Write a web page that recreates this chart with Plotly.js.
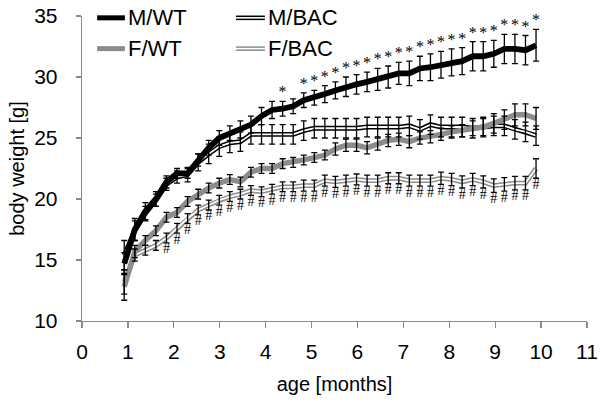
<!DOCTYPE html>
<html><head><meta charset="utf-8">
<script src="https://cdn.plot.ly/plotly-3.0.1.min.js"></script>
<style>html,body{margin:0;padding:0;background:#fff}</style>
</head><body><div id="chart" style="width:602px;height:404px"></div>
<script>
// age in months (weekly measurements, weeks 4..43)
const ageMonths = [0.92,1.15,1.38,1.61,1.84,2.07,2.30,2.53,2.76,2.99,3.22,3.45,3.68,3.91,4.14,4.37,4.60,4.83,5.06,5.29,5.52,5.75,5.98,6.21,6.44,6.67,6.90,7.13,7.36,7.59,7.82,8.05,8.28,8.51,8.74,8.97,9.20,9.43,9.66,9.89];

const mWT    = [14.7,17.5,19.0,20.0,21.4,22.1,22.1,23.2,24.2,25.0,25.4,25.7,26.1,26.8,27.3,27.4,27.6,28.1,28.3,28.6,28.9,29.2,29.4,29.6,29.8,30.0,30.3,30.3,30.7,30.8,31.0,31.2,31.3,31.7,31.7,31.9,32.3,32.3,32.2,32.6];
const mWTerr = [0.9,0.9,0.7,0.6,0.5,0.4,0.4,0.5,0.6,0.6,0.6,0.7,0.7,0.7,0.7,0.6,0.6,0.6,0.6,0.7,0.7,0.8,0.8,0.8,0.9,0.9,0.9,1.0,1.0,1.1,1.1,1.1,1.1,1.2,1.2,1.1,1.2,1.2,1.2,1.3];

const mBAC    = [15.4,17.4,18.8,19.9,21.2,21.8,22.0,23.0,23.7,24.3,24.6,24.7,25.3,25.3,25.3,25.3,25.3,25.6,25.8,25.8,25.8,25.8,25.8,25.9,25.9,25.9,25.9,26.0,25.7,26.1,25.9,25.9,25.9,25.8,25.9,26.0,26.0,25.7,25.5,25.2];
const mBACerr = [1.2,0.8,0.6,0.5,0.5,0.5,0.6,0.7,0.8,0.8,0.8,0.8,0.8,0.8,0.8,0.8,0.8,0.8,0.8,0.8,0.8,0.8,0.8,0.8,0.8,0.8,0.8,0.8,0.8,0.8,0.8,0.8,0.8,0.8,0.8,0.8,0.8,0.8,0.8,0.8];

const fWT    = [12.8,15.7,16.6,17.4,18.5,18.9,19.8,20.4,20.9,21.3,21.6,21.4,22.2,22.5,22.5,22.9,23.0,23.2,23.4,23.6,24.1,24.4,24.4,24.2,24.5,24.8,24.9,24.7,25.0,25.1,25.3,25.5,25.6,25.8,25.9,26.2,26.5,26.9,26.9,26.6];
const fWTerr = [1.1,0.5,0.4,0.4,0.4,0.4,0.4,0.4,0.4,0.4,0.4,0.4,0.4,0.4,0.4,0.4,0.4,0.4,0.4,0.4,0.5,0.5,0.5,0.5,0.5,0.5,0.5,0.5,0.5,0.5,0.5,0.5,0.5,0.6,0.7,0.8,0.8,0.9,0.9,0.9];

const fBAC    = [13.2,15.4,15.8,16.2,16.8,17.6,18.4,19.1,19.5,19.9,20.2,20.4,20.7,20.6,20.8,21.0,21.0,21.1,21.1,21.5,21.4,21.5,21.6,21.5,21.5,21.7,21.7,21.5,21.5,21.5,21.7,21.6,21.4,21.6,21.4,21.1,21.2,21.3,21.3,22.5];
const fBACerr = [1.0,0.5,0.4,0.4,0.4,0.4,0.4,0.4,0.4,0.4,0.4,0.4,0.4,0.4,0.4,0.4,0.4,0.45,0.45,0.45,0.45,0.45,0.45,0.45,0.45,0.45,0.45,0.45,0.45,0.45,0.5,0.5,0.5,0.5,0.5,0.55,0.55,0.55,0.55,0.8];

// significance markers: * males WT vs BAC, # females WT vs BAC
const starFlag = [0,0,0,0,0,0,0,0,0,0,0,0,0,0,0,1,0,1,1,1,1,1,1,1,1,1,1,1,1,1,1,1,1,1,1,1,1,1,1,1];
const hashFlag = [0,0,0,0,1,1,1,1,1,1,1,1,1,1,1,1,1,1,1,1,1,1,1,1,1,1,1,1,1,1,1,1,1,1,1,1,1,1,1,1];

const legendNames = ['M/WT','M/BAC','F/WT','F/BAC'];
const xTicks = [0,1,2,3,4,5,6,7,8,9,10,11];
const yTicks = [10,15,20,25,30,35];

const GRAY = '#8c8c8c';
const AX = '#8a8a8a';

function line(y, color, width) {
  return {x: ageMonths, y: y, mode: 'lines', line: {color: color, width: width}, hoverinfo: 'skip', showlegend: false};
}
function errs(y, e) {
  return {x: ageMonths, y: y, mode: 'markers', marker: {size: 1, color: 'rgba(0,0,0,0)'},
    error_y: {type: 'data', array: e, visible: true, color: '#000', thickness: 1.3, width: 3},
    hoverinfo: 'skip', showlegend: false};
}
function marks(flag, y, e, sign, txt, pos, size) {
  const xs = [], ys = [];
  flag.forEach((f, i) => { if (f) { xs.push(ageMonths[i]); ys.push(y[i] + sign * e[i]); } });
  return {x: xs, y: ys, mode: 'text', text: xs.map(() => txt), textposition: pos,
    textfont: {family: 'Liberation Serif', size: size, color: '#000'}, cliponaxis: false,
    hoverinfo: 'skip', showlegend: false};
}

const traces = [
  line(mBAC, '#000', 4.8), line(mBAC, '#fff', 1.8),
  line(fBAC, GRAY, 4.8), line(fBAC, '#fff', 1.8),
  line(fWT, GRAY, 5.4),
  line(mWT, '#000', 5.8),
  errs(mBAC, mBACerr), errs(fBAC, fBACerr), errs(fWT, fWTerr), errs(mWT, mWTerr),
  marks(starFlag, mWT, mWTerr, 1, '*', 'top center', 16),
  marks(hashFlag, fBAC, fBACerr, -1, '#', 'bottom center', 14)
];

// manual legend (double-line samples for BAC)
const L = {x0a: 0.03, x1a: 0.085, x0b: 0.305, x1b: 0.362, yTop: 0.994, yBot: 0.893};
const shapes = [
  {type:'line', xref:'paper', yref:'paper', x0:L.x0a, x1:L.x1a, y0:L.yTop, y1:L.yTop, line:{color:'#000', width:5}},
  {type:'line', xref:'paper', yref:'paper', x0:L.x0a, x1:L.x1a, y0:L.yBot, y1:L.yBot, line:{color:GRAY, width:5}},
  {type:'line', xref:'paper', yref:'paper', x0:L.x0b, x1:L.x1b, y0:L.yTop, y1:L.yTop, line:{color:'#000', width:4.6}},
  {type:'line', xref:'paper', yref:'paper', x0:L.x0b, x1:L.x1b, y0:L.yTop, y1:L.yTop, line:{color:'#fff', width:1.6}},
  {type:'line', xref:'paper', yref:'paper', x0:L.x0b, x1:L.x1b, y0:L.yBot, y1:L.yBot, line:{color:GRAY, width:4.6}},
  {type:'line', xref:'paper', yref:'paper', x0:L.x0b, x1:L.x1b, y0:L.yBot, y1:L.yBot, line:{color:'#fff', width:1.6}}
];
const legFont = {family:'Liberation Sans, Arial', size:22, color:'#000'};
const annotations = [
  {text: legendNames[0], x: L.x1a + 0.002, y: L.yTop, xanchor:'left', yanchor:'middle'},
  {text: legendNames[1], x: L.x1b + 0.002, y: L.yTop, xanchor:'left', yanchor:'middle'},
  {text: legendNames[2], x: L.x1a + 0.002, y: L.yBot, xanchor:'left', yanchor:'middle'},
  {text: legendNames[3], x: L.x1b + 0.002, y: L.yBot, xanchor:'left', yanchor:'middle'}
].map(a => Object.assign(a, {xref:'paper', yref:'paper', showarrow:false, font: legFont}));

const layout = {
  width: 602, height: 404,
  margin: {l: 82, r: 15, t: 16, b: 83},
  paper_bgcolor: '#fff', plot_bgcolor: '#fff',
  font: {family: 'Liberation Sans, Arial', size: 21, color: '#000'},
  showlegend: false,
  xaxis: {
    range: [0, 11], tickvals: xTicks, ticktext: xTicks.map(String),
    ticks: 'outside', ticklen: 6, tickwidth: 1.3, tickcolor: AX,
    showline: true, linecolor: AX, linewidth: 1.3, showgrid: false, zeroline: false,
    tickfont: {size: 21}, ticklabelstandoff: 5,
    title: {text: 'age [months]', font: {size: 20}, standoff: 15}
  },
  yaxis: {
    range: [10, 35], tickvals: yTicks, ticktext: yTicks.map(String),
    ticks: 'outside', ticklen: 5, tickwidth: 1.3, tickcolor: AX,
    showline: true, linecolor: AX, linewidth: 1.3, showgrid: false, zeroline: false,
    tickfont: {size: 21}, ticklabelstandoff: 14,
    title: {text: 'body weight [g]', font: {size: 20}, standoff: 4}
  },
  shapes: shapes, annotations: annotations
};

Plotly.newPlot('chart', traces, layout, {staticPlot: true, displayModeBar: false});
</script></body></html>
